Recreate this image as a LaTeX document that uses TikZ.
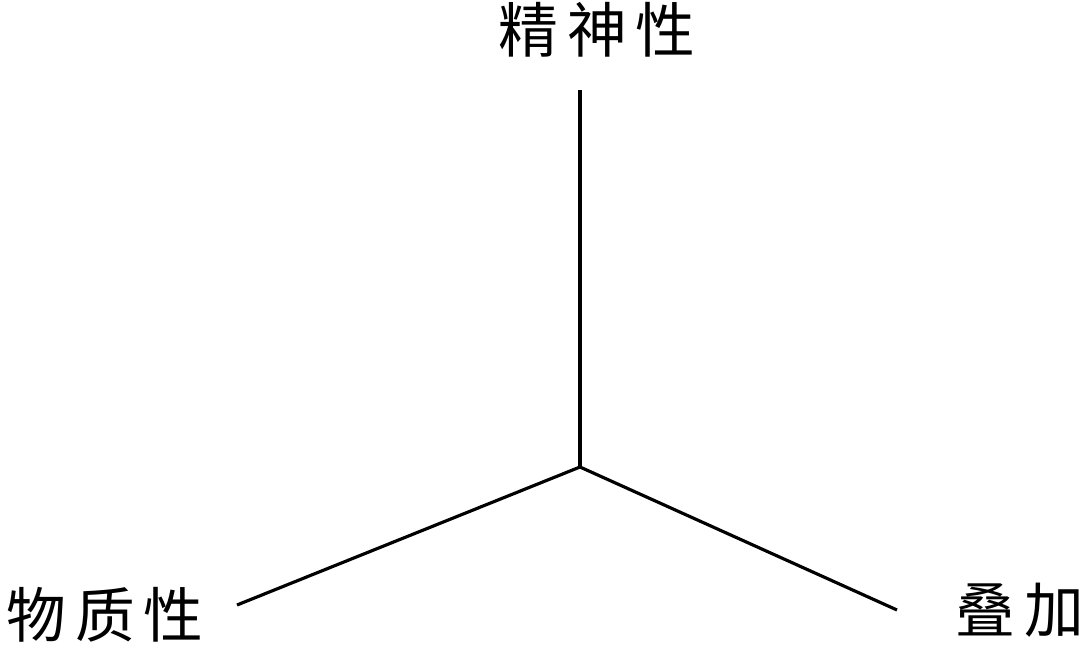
\documentclass[tikz,border=0pt]{standalone}
\usepackage{fontspec}
\newfontfamily\cjk[LetterSpace=15]{Noto Sans CJK SC}
\usepackage{tikz}

\begin{document}
\begin{tikzpicture}[axislabel/.style={font=\cjk\fontsize{17}{17}\selectfont, inner sep=0pt}]
          \useasboundingbox (0,0) rectangle (10.8,6.46);

          \coordinate (o) at (5.80,1.79);
          \coordinate (top) at (5.80,5.56);
          \coordinate (left) at (2.37,0.41);
          \coordinate (right) at (8.97,0.36);

          \draw[line width=0.9pt] (o) -- (top);
          \draw[line width=0.9pt] (o) -- (left);
          \draw[line width=0.9pt] (o) -- (right);

          \node[axislabel] (spirit) at (5.97,6.16) {精神性};
          \node[axislabel] (matter) at (1.05,0.31) {物质性};
          \node[axislabel] (overlay) at (10.20,0.36) {叠加};
        \end{tikzpicture}
\end{document}
